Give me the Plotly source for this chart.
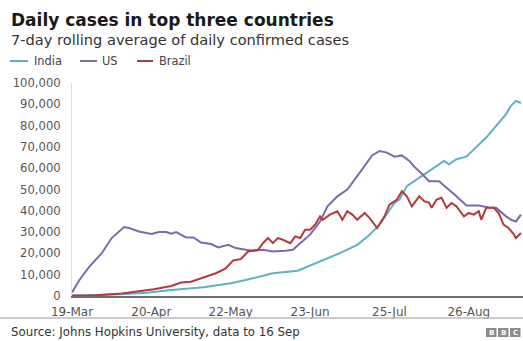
import plotly.graph_objects as go

# ---------------- data ----------------
us_dates = ["2020-03-19", "2020-03-22", "2020-03-26", "2020-03-31", "2020-04-04", "2020-04-07",
            "2020-04-09", "2020-04-11", "2020-04-15", "2020-04-20", "2020-04-23", "2020-04-26",
            "2020-04-28", "2020-04-30", "2020-05-04", "2020-05-07", "2020-05-10", "2020-05-14",
            "2020-05-17", "2020-05-21", "2020-05-24", "2020-05-28", "2020-05-31", "2020-06-04",
            "2020-06-08", "2020-06-13", "2020-06-16", "2020-06-19", "2020-06-23", "2020-06-27",
            "2020-06-30", "2020-07-04", "2020-07-08", "2020-07-12", "2020-07-16", "2020-07-18",
            "2020-07-21", "2020-07-24", "2020-07-27", "2020-07-30", "2020-08-02", "2020-08-04",
            "2020-08-06", "2020-08-10", "2020-08-14", "2020-08-18", "2020-08-21", "2020-08-25",
            "2020-08-30", "2020-09-03", "2020-09-06", "2020-09-10", "2020-09-12", "2020-09-14",
            "2020-09-16"]
us_values = [1700, 7500, 13800, 20100, 27200, 30300,
             32400, 31900, 30300, 29100, 30000, 30000,
             29200, 30000, 27500, 27500, 25100, 24400,
             22800, 24000, 22500, 21700, 21200, 21700,
             20900, 21200, 21700, 24800, 28800, 35000,
             42100, 46800, 50000, 56300, 62600, 66000,
             68100, 67300, 65400, 66000, 63400, 60700,
             58600, 53900, 53900, 50000, 46800, 42500,
             42500, 41600, 41400, 37400, 35800, 35000,
             38200]

india_dates = ["2020-03-19", "2020-03-29", "2020-04-08", "2020-04-18", "2020-04-28", "2020-05-11",
               "2020-05-22", "2020-05-28", "2020-06-02", "2020-06-08", "2020-06-18", "2020-06-22",
               "2020-06-28", "2020-07-05", "2020-07-12", "2020-07-17", "2020-07-21", "2020-07-25",
               "2020-07-27", "2020-07-29", "2020-08-01", "2020-08-08", "2020-08-12", "2020-08-16",
               "2020-08-18", "2020-08-21", "2020-08-25", "2020-08-29", "2020-09-02", "2020-09-06",
               "2020-09-10", "2020-09-12", "2020-09-14", "2020-09-16"]
india_values = [100, 300, 800, 1500, 2800, 4100,
                6000, 7500, 9100, 10700, 11900, 13800,
                17000, 20100, 24000, 28800, 33500, 40600,
                43700, 45300, 51600, 57100, 60200, 63400,
                61800, 64200, 65400, 69700, 74400, 79900,
                85400, 89300, 91600, 90600]

brazil_dates = ["2020-03-19", "2020-03-29", "2020-04-08", "2020-04-14", "2020-04-21", "2020-04-28",
                "2020-05-02", "2020-05-06", "2020-05-11", "2020-05-16", "2020-05-20", "2020-05-23",
                "2020-05-26", "2020-05-29", "2020-06-02", "2020-06-04", "2020-06-06", "2020-06-08",
                "2020-06-10", "2020-06-12", "2020-06-15", "2020-06-17", "2020-06-19", "2020-06-21",
                "2020-06-23", "2020-06-25", "2020-06-27", "2020-06-28", "2020-07-01", "2020-07-04",
                "2020-07-06", "2020-07-08", "2020-07-10", "2020-07-12", "2020-07-15", "2020-07-17",
                "2020-07-20", "2020-07-23", "2020-07-25", "2020-07-28", "2020-07-30", "2020-08-01",
                "2020-08-03", "2020-08-06", "2020-08-08", "2020-08-10", "2020-08-11", "2020-08-13",
                "2020-08-15", "2020-08-17", "2020-08-19", "2020-08-21", "2020-08-24", "2020-08-26",
                "2020-08-28", "2020-08-30", "2020-08-31", "2020-09-02", "2020-09-05", "2020-09-07",
                "2020-09-09", "2020-09-11", "2020-09-13", "2020-09-14", "2020-09-16"]
brazil_values = [200, 400, 1200, 2000, 3200, 4700,
                 6300, 6700, 8800, 10700, 13000, 16700,
                 17300, 20900, 21700, 24800, 27200, 24800,
                 27200, 26400, 24800, 28000, 27200, 31100,
                 31100, 33500, 37400, 35800, 38200, 39800,
                 35800, 39800, 38200, 35800, 39000, 36600,
                 31900, 37400, 42900, 45300, 49200, 46800,
                 42100, 46800, 44500, 43700, 41400, 45300,
                 46100, 41400, 43700, 42100, 37400, 39000,
                 38200, 39800, 35800, 41400, 41400, 39000,
                 33500, 31900, 29200, 27200, 29600]

series_names = ["India", "US", "Brazil"]
x_tick_vals = ["2020-03-19", "2020-04-20", "2020-05-22", "2020-06-23", "2020-07-25", "2020-08-26"]
x_tick_text = ["19-Mar", "20-Apr", "22-May", "23-Jun", "25-Jul", "26-Aug"]
y_tick_vals = [0, 10000, 20000, 30000, 40000, 50000, 60000, 70000, 80000, 90000, 100000]

title_text = "Daily cases in top three countries"
subtitle_text = "7-day rolling average of daily confirmed cases"
source_text = "Source: Johns Hopkins University, data to 16 Sep"

# ---------------- styling ----------------
W, H = 523, 341
L, R, T, B = 72, 0, 83, 45
PW, PH = W - L - R, H - T - B
FONT = "DejaVu Sans"
colors = {"India": "#5BB3C1", "US": "#7D6AAD", "Brazil": "#B33A3F"}


def px_x(px):
    return (px - L) / PW


def px_y(py):
    return (H - B - py) / PH


fig = go.Figure()
for name, xs, ys in [("India", india_dates, india_values),
                     ("US", us_dates, us_values),
                     ("Brazil", brazil_dates, brazil_values)]:
    fig.add_trace(go.Scatter(x=xs, y=ys, mode="lines", name=name,
                             line=dict(color=colors[name], width=2),
                             showlegend=False, hoverinfo="skip"))

annotations = [
    dict(text="<b>" + title_text + "</b>", x=px_x(9), y=px_y(20), xanchor="left", yanchor="middle",
         font=dict(family=FONT, size=17, color="#1a1a1a")),
    dict(text=subtitle_text, x=px_x(9), y=px_y(40), xanchor="left", yanchor="middle",
         font=dict(family=FONT, size=14.6, color="#333333")),
    dict(text=source_text, x=px_x(9), y=px_y(332), xanchor="left", yanchor="middle",
         font=dict(family=FONT, size=11.8, color="#333333")),
]
shapes = []

legend_pos = {"India": (10, 28, 32), "US": (80, 97, 100), "Brazil": (137, 153, 157)}
for name in series_names:
    x0, x1, tx = legend_pos[name]
    shapes.append(dict(type="line", xref="paper", yref="paper", x0=px_x(x0), x1=px_x(x1),
                       y0=px_y(61), y1=px_y(61), line=dict(color=colors[name], width=2)))
    annotations.append(dict(text=name, x=px_x(tx), y=px_y(61), xanchor="left", yanchor="middle",
                            font=dict(family=FONT, size=11.4, color="#444444")))

# footer rule
shapes.append(dict(type="line", xref="paper", yref="paper", x0=px_x(0), x1=px_x(W),
                   y0=px_y(318), y1=px_y(318), line=dict(color="#bbbbbb", width=1.5)))
# BBC blocks
for i, letter in enumerate(["B", "B", "C"]):
    bx0 = 486 + i * 12
    shapes.append(dict(type="rect", xref="paper", yref="paper", x0=px_x(bx0), x1=px_x(bx0 + 10.5),
                       y0=px_y(337), y1=px_y(328), line=dict(width=0), fillcolor="#8c8c8c"))
    annotations.append(dict(text="<b>" + letter + "</b>", x=px_x(bx0 + 5.25), y=px_y(332.5),
                            xanchor="center", yanchor="middle",
                            font=dict(family=FONT, size=7, color="#ffffff")))

for a in annotations:
    a.update(xref="paper", yref="paper", showarrow=False)

fig.update_layout(
    width=W, height=H,
    margin=dict(l=L, r=R, t=T, b=B),
    paper_bgcolor="white", plot_bgcolor="white",
    annotations=annotations, shapes=shapes,
    showlegend=False,
    xaxis=dict(type="date", range=["2020-03-19", "2020-09-16 20:00"],
               tickvals=x_tick_vals, ticktext=x_tick_text,
               showgrid=False, zeroline=False,
               showline=True, linecolor="#6e6e6e", linewidth=2,
               ticks="", ticklabelstandoff=4,
               tickfont=dict(family=FONT, size=12, color="#555555")),
    yaxis=dict(range=[0, 100000], tickvals=y_tick_vals, tickformat=",",
               showgrid=False, zeroline=False,
               showline=True, linecolor="#dddddd", linewidth=1,
               ticks="", ticklabelstandoff=8,
               tickfont=dict(family=FONT, size=11.6, color="#555555")),
)

fig.write_html("out.html", config={"displayModeBar": False},
               post_script="document.body.style.margin='0';document.body.style.overflow='hidden';")
